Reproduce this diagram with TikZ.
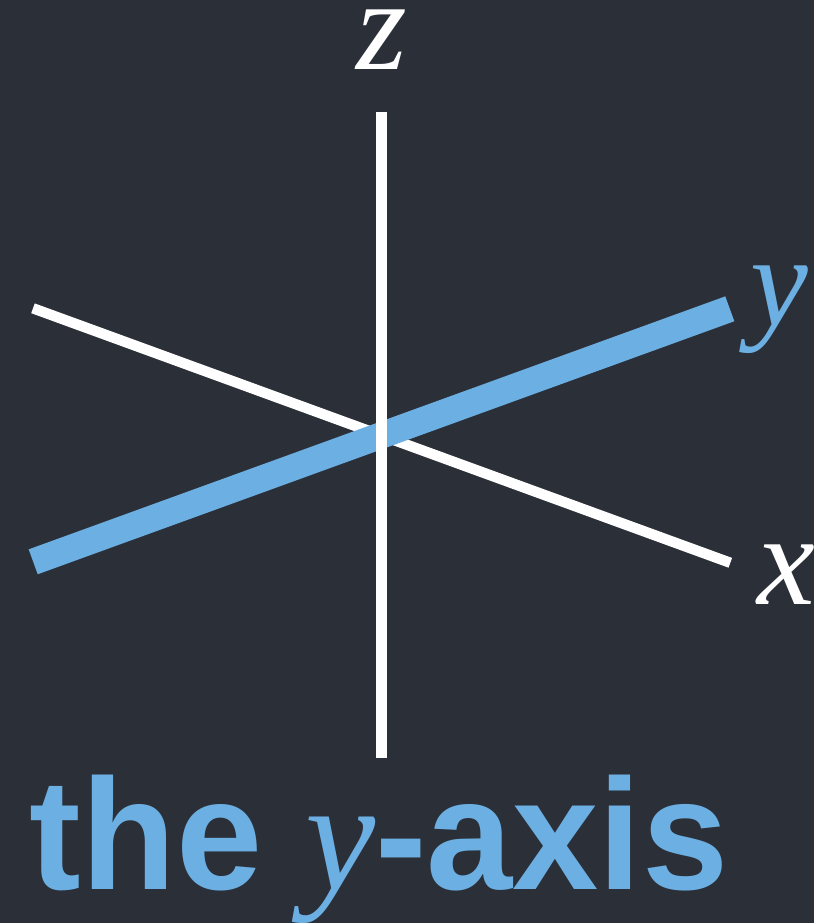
\documentclass[tikz,border=0pt]{standalone}
\usepackage{fontspec}
\setmainfont{Liberation Serif}
\newfontfamily\titlefont[FakeStretch=0.98]{Liberation Sans}

\definecolor{pizarra}{RGB}{43,47,56}
\definecolor{azul}{RGB}{108,176,227}

\begin{document}
\begin{tikzpicture}[x=1pt, y=-1pt,
    eje/.style={white, line width=10.4pt},
    ejey/.style={azul, line width=26.5pt},
    etiqueta/.style={inner sep=0pt, anchor=base,
        font=\fontsize{130pt}{130pt}\selectfont\itshape}]
% Fondo
\fill[pizarra] (0,0) rectangle (814,923);
\useasboundingbox (0,0) rectangle (814,923);

% Extremos de los ejes
\coordinate (x0) at (33,308.3);
\coordinate (x1) at (730.3,562.8);
\coordinate (y0) at (33.2,561.8);
\coordinate (y1) at (729.8,308.8);
\coordinate (z0) at (381.5,758);
\coordinate (z1) at (381.5,112.3);

% Ejes
\draw[eje] (x0) -- (x1);
\draw[ejey] (y0) -- (y1);
\draw[eje] (z0) -- (z1);

% Etiquetas
\node[etiqueta, white] (lz) at (382,70) {z};
\node[etiqueta, azul] (ly) at (779,325) {y};
\node[etiqueta, white] (lx) at (786,604) {x};

% Titulo
\node[inner sep=0pt, anchor=base, azul,
    font=\fontsize{158pt}{158pt}\selectfont\titlefont\bfseries] (titulo) at (379,889)
    {the {\normalfont\fontsize{158pt}{158pt}\selectfont\itshape y}-axis};
\end{tikzpicture}
\end{document}
